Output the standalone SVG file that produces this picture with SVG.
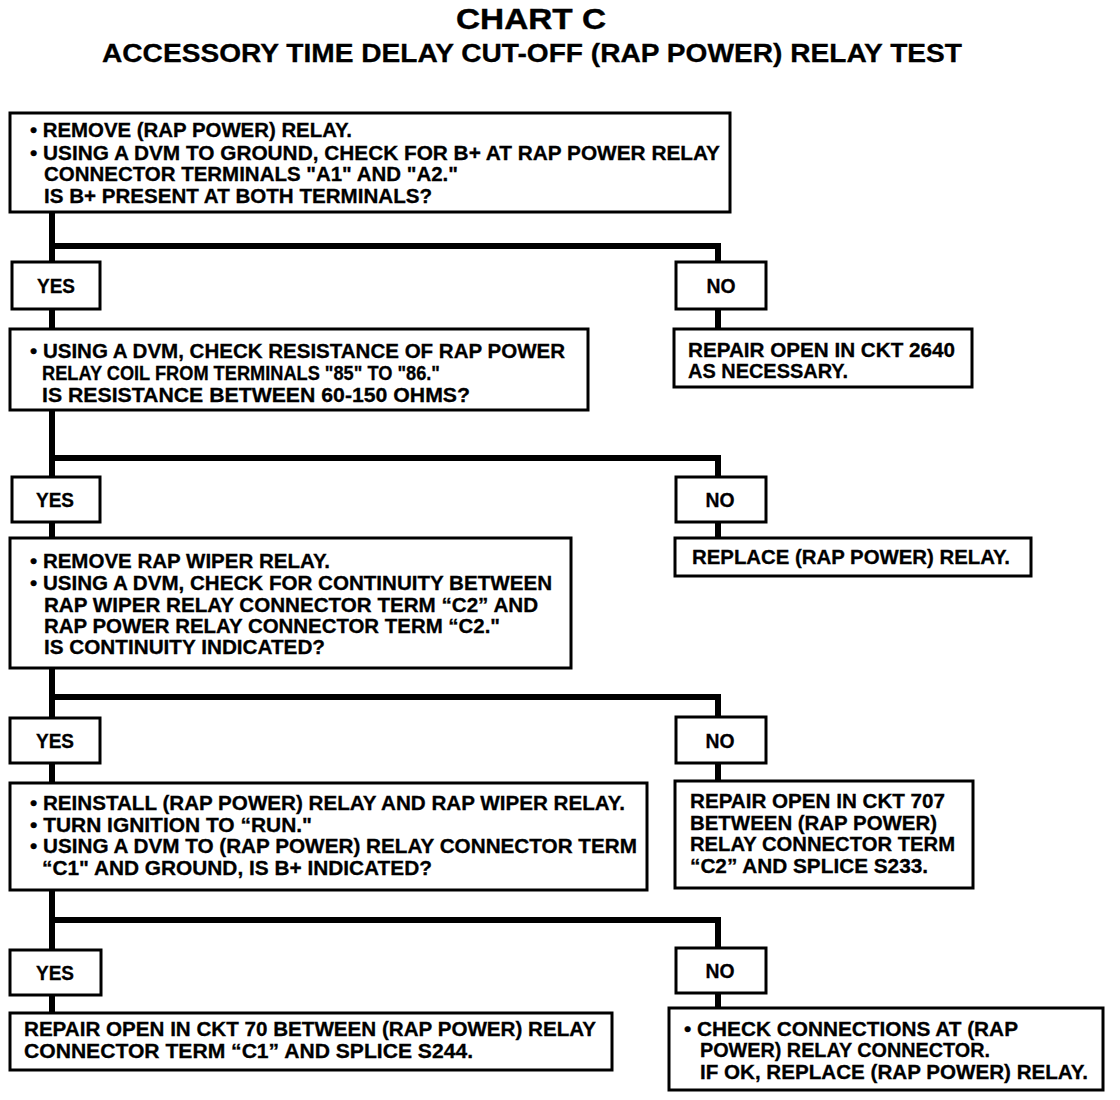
<svg xmlns="http://www.w3.org/2000/svg" width="1120" height="1100" viewBox="0 0 1120 1100">
<style>
.bx{fill:#fff;stroke:#000;stroke-width:3}
.cn{fill:none;stroke:#000;stroke-width:6;stroke-linejoin:miter}
text{font-family:"Liberation Sans",Arial,sans-serif;font-weight:bold;fill:#000}
.t{font-size:20px;stroke:#000;stroke-width:0.3}
.h1{font-size:30px;stroke:#000;stroke-width:0.4}
.h2{font-size:26px;stroke:#000;stroke-width:0.3}
</style>
<rect width="1120" height="1100" fill="#fff"/>
<g id="title">
<text class="h1" x="531" y="29" text-anchor="middle" textLength="150" lengthAdjust="spacingAndGlyphs">CHART C</text>
<text class="h2" x="532" y="62" text-anchor="middle" textLength="860" lengthAdjust="spacingAndGlyphs">ACCESSORY TIME DELAY CUT-OFF (RAP POWER) RELAY TEST</text>
</g>
<g id="connectors">
<path class="cn" d="M52,212 V477 M52,246 H718 V262 M718,309 V329"/>
<path class="cn" d="M52,410 V477 M52,458 H718 V478 M718,521 V538"/>
<path class="cn" d="M52,668 V718 M52,697 H718 V717 M718,762 V781"/>
<path class="cn" d="M52,890 V950 M52,920 H718 V948 M718,993 V1008"/>
<path class="cn" d="M52,309 V329 M52,521 V538 M52,762 V783 M52,995 V1013"/>
</g>
<g id="q1">
<rect class="bx" x="10" y="113" width="720" height="99"/>
<text class="t" x="30" y="137" textLength="322" lengthAdjust="spacingAndGlyphs">• REMOVE (RAP POWER) RELAY.</text>
<text class="t" x="30" y="160" textLength="690" lengthAdjust="spacingAndGlyphs">• USING A DVM TO GROUND, CHECK FOR B+ AT RAP POWER RELAY</text>
<text class="t" x="44" y="181" textLength="414" lengthAdjust="spacingAndGlyphs">CONNECTOR TERMINALS "A1" AND "A2."</text>
<text class="t" x="44" y="203" textLength="388" lengthAdjust="spacingAndGlyphs">IS B+ PRESENT AT BOTH TERMINALS?</text>
</g>
<g id="yes1">
<rect class="bx" x="12" y="262" width="88" height="47"/>
<text class="t" x="56" y="293" text-anchor="middle" textLength="38" lengthAdjust="spacingAndGlyphs">YES</text>
</g>
<g id="no1">
<rect class="bx" x="676" y="262" width="90" height="47"/>
<text class="t" x="721" y="293" text-anchor="middle" textLength="29" lengthAdjust="spacingAndGlyphs">NO</text>
</g>
<g id="q2">
<rect class="bx" x="10" y="329" width="578" height="81"/>
<text class="t" x="30" y="358" textLength="535" lengthAdjust="spacingAndGlyphs">• USING A DVM, CHECK RESISTANCE OF RAP POWER</text>
<text class="t" x="42" y="380" textLength="398" lengthAdjust="spacingAndGlyphs">RELAY COIL FROM TERMINALS "85" TO "86."</text>
<text class="t" x="42" y="402" textLength="428" lengthAdjust="spacingAndGlyphs">IS RESISTANCE BETWEEN 60-150 OHMS?</text>
</g>
<g id="r1">
<rect class="bx" x="674" y="329" width="298" height="58"/>
<text class="t" x="688" y="357" textLength="267" lengthAdjust="spacingAndGlyphs">REPAIR OPEN IN CKT 2640</text>
<text class="t" x="688" y="378" textLength="160" lengthAdjust="spacingAndGlyphs">AS NECESSARY.</text>
</g>
<g id="yes2">
<rect class="bx" x="12" y="477" width="88" height="45"/>
<text class="t" x="55" y="507" text-anchor="middle" textLength="38" lengthAdjust="spacingAndGlyphs">YES</text>
</g>
<g id="no2">
<rect class="bx" x="676" y="477" width="90" height="45"/>
<text class="t" x="720" y="507" text-anchor="middle" textLength="29" lengthAdjust="spacingAndGlyphs">NO</text>
</g>
<g id="q3">
<rect class="bx" x="10" y="538" width="561" height="130"/>
<text class="t" x="30" y="568" textLength="300" lengthAdjust="spacingAndGlyphs">• REMOVE RAP WIPER RELAY.</text>
<text class="t" x="30" y="590" textLength="522" lengthAdjust="spacingAndGlyphs">• USING A DVM, CHECK FOR CONTINUITY BETWEEN</text>
<text class="t" x="44" y="612" textLength="494" lengthAdjust="spacingAndGlyphs">RAP WIPER RELAY CONNECTOR TERM “C2” AND</text>
<text class="t" x="44" y="633" textLength="456" lengthAdjust="spacingAndGlyphs">RAP POWER RELAY CONNECTOR TERM “C2."</text>
<text class="t" x="44" y="654" textLength="281" lengthAdjust="spacingAndGlyphs">IS CONTINUITY INDICATED?</text>
</g>
<g id="r2">
<rect class="bx" x="675" y="538" width="356" height="38"/>
<text class="t" x="692" y="564" textLength="318" lengthAdjust="spacingAndGlyphs">REPLACE (RAP POWER) RELAY.</text>
</g>
<g id="yes3">
<rect class="bx" x="10" y="718" width="90" height="45"/>
<text class="t" x="55" y="748" text-anchor="middle" textLength="38" lengthAdjust="spacingAndGlyphs">YES</text>
</g>
<g id="no3">
<rect class="bx" x="676" y="717" width="90" height="46"/>
<text class="t" x="720" y="748" text-anchor="middle" textLength="29" lengthAdjust="spacingAndGlyphs">NO</text>
</g>
<g id="q4">
<rect class="bx" x="10" y="783" width="637" height="107"/>
<text class="t" x="30" y="810" textLength="595" lengthAdjust="spacingAndGlyphs">• REINSTALL (RAP POWER) RELAY AND RAP WIPER RELAY.</text>
<text class="t" x="30" y="832" textLength="282" lengthAdjust="spacingAndGlyphs">• TURN IGNITION TO “RUN."</text>
<text class="t" x="30" y="853" textLength="607" lengthAdjust="spacingAndGlyphs">• USING A DVM TO (RAP POWER) RELAY CONNECTOR TERM</text>
<text class="t" x="42" y="875" textLength="390" lengthAdjust="spacingAndGlyphs">“C1" AND GROUND, IS B+ INDICATED?</text>
</g>
<g id="r3">
<rect class="bx" x="675" y="781" width="298" height="107"/>
<text class="t" x="690" y="808" textLength="255" lengthAdjust="spacingAndGlyphs">REPAIR OPEN IN CKT 707</text>
<text class="t" x="690" y="830" textLength="247" lengthAdjust="spacingAndGlyphs">BETWEEN (RAP POWER)</text>
<text class="t" x="690" y="851" textLength="265" lengthAdjust="spacingAndGlyphs">RELAY CONNECTOR TERM</text>
<text class="t" x="690" y="873" textLength="238" lengthAdjust="spacingAndGlyphs">“C2” AND SPLICE S233.</text>
</g>
<g id="yes4">
<rect class="bx" x="10" y="950" width="91" height="45"/>
<text class="t" x="55" y="980" text-anchor="middle" textLength="38" lengthAdjust="spacingAndGlyphs">YES</text>
</g>
<g id="no4">
<rect class="bx" x="676" y="948" width="90" height="45"/>
<text class="t" x="720" y="978" text-anchor="middle" textLength="29" lengthAdjust="spacingAndGlyphs">NO</text>
</g>
<g id="r4a">
<rect class="bx" x="10" y="1013" width="602" height="57"/>
<text class="t" x="24" y="1036" textLength="572" lengthAdjust="spacingAndGlyphs">REPAIR OPEN IN CKT 70 BETWEEN (RAP POWER) RELAY</text>
<text class="t" x="24" y="1058" textLength="449" lengthAdjust="spacingAndGlyphs">CONNECTOR TERM “C1” AND SPLICE S244.</text>
</g>
<g id="r4b">
<rect class="bx" x="669" y="1008" width="434" height="82"/>
<text class="t" x="684" y="1036" textLength="334" lengthAdjust="spacingAndGlyphs">• CHECK CONNECTIONS AT (RAP</text>
<text class="t" x="700" y="1057" textLength="290" lengthAdjust="spacingAndGlyphs">POWER) RELAY CONNECTOR.</text>
<text class="t" x="700" y="1079" textLength="388" lengthAdjust="spacingAndGlyphs">IF OK, REPLACE (RAP POWER) RELAY.</text>
</g>
</svg>
